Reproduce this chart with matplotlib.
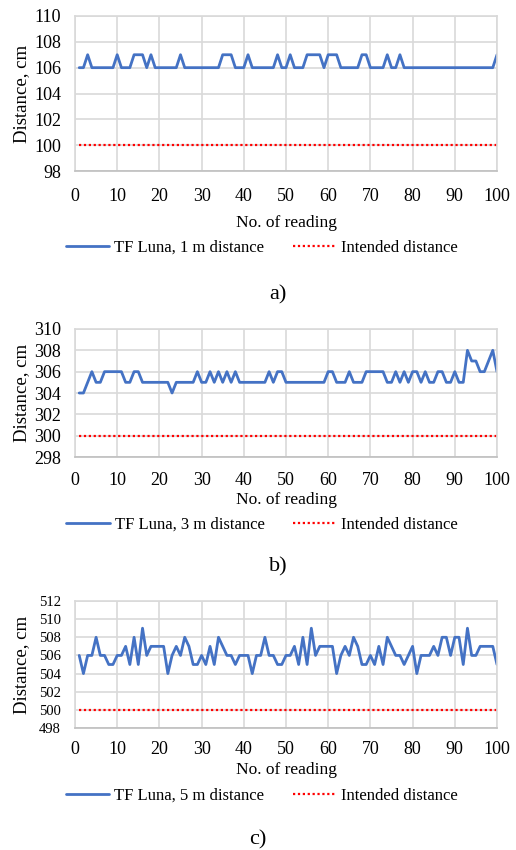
import numpy as np
import matplotlib
matplotlib.use("Agg")
import matplotlib.pyplot as plt

plt.rcParams['font.family'] = ['Liberation Serif', 'DejaVu Serif']

readings = np.arange(1, 101)

# TF Luna, 1 m
dist_1m = [106, 106, 107, 106, 106, 106, 106, 106, 106, 107,
           106, 106, 106, 107, 107, 107, 106, 107, 106, 106,
           106, 106, 106, 106, 107, 106, 106, 106, 106, 106,
           106, 106, 106, 106, 107, 107, 107, 106, 106, 106,
           107, 106, 106, 106, 106, 106, 106, 107, 106, 106,
           107, 106, 106, 106, 107, 107, 107, 107, 106, 107,
           107, 107, 106, 106, 106, 106, 106, 107, 107, 106,
           106, 106, 106, 107, 106, 106, 107, 106, 106, 106,
           106, 106, 106, 106, 106, 106, 106, 106, 106, 106,
           106, 106, 106, 106, 106, 106, 106, 106, 106, 107]

# TF Luna, 3 m
dist_3m = [304, 304, 305, 306, 305, 305, 306, 306, 306, 306,
           306, 305, 305, 306, 306, 305, 305, 305, 305, 305,
           305, 305, 304, 305, 305, 305, 305, 305, 306, 305,
           305, 306, 305, 306, 305, 306, 305, 306, 305, 305,
           305, 305, 305, 305, 305, 306, 305, 306, 306, 305,
           305, 305, 305, 305, 305, 305, 305, 305, 305, 306,
           306, 305, 305, 305, 306, 305, 305, 305, 306, 306,
           306, 306, 306, 305, 305, 306, 305, 306, 305, 306,
           306, 305, 306, 305, 305, 306, 306, 305, 305, 306,
           305, 305, 308, 307, 307, 306, 306, 307, 308, 306]

# TF Luna, 5 m
dist_5m = [506, 504, 506, 506, 508, 506, 506, 505, 505, 506,
           506, 507, 505, 508, 505, 509, 506, 507, 507, 507,
           507, 504, 506, 507, 506, 508, 507, 505, 505, 506,
           505, 507, 505, 508, 507, 506, 506, 505, 506, 506,
           506, 504, 506, 506, 508, 506, 506, 505, 505, 506,
           506, 507, 505, 508, 505, 509, 506, 507, 507, 507,
           507, 504, 506, 507, 506, 508, 507, 505, 505, 506,
           505, 507, 505, 508, 507, 506, 506, 505, 506, 507,
           504, 506, 506, 506, 507, 506, 508, 508, 506, 508,
           508, 505, 509, 506, 506, 507, 507, 507, 507, 505]

intended = [100, 300, 500]
series = [dist_1m, dist_3m, dist_5m]
labels = ['TF Luna, 1 m distance', 'TF Luna, 3 m distance', 'TF Luna, 5 m distance']
ylims = [(98, 110), (298, 310), (498, 512)]
panel_names = ['a)', 'b)', 'c)']

W, H = 516, 850
fig = plt.figure(figsize=(W / 100, H / 100), dpi=100)

# pixel layout: (top, bottom) of plot area, xtick pad, ytick size, xlabel y, legend y, panel label (x, y)
layout = [
    (16, 171, 12, 13, 223, 248, (278, 295)),
    (329, 457, 11, 13, 500, 525, (278, 567)),
    (601, 728, 9.5, 10.5, 770, 796, (258, 840)),
]

left, right = 75, 497

for i in range(3):
    top, bot, xpad, ysize, xl_y, leg_y, (px, py) = layout[i]
    ax = fig.add_axes([left / W, 1 - bot / H, (right - left) / W, (bot - top) / H])
    l1, = ax.plot(readings, series[i], color='#4472C4', lw=2,
                  solid_joinstyle='round', solid_capstyle='round')
    l2, = ax.plot(readings, [intended[i]] * len(readings), color='#FF0000', lw=1.6, ls=(0, (1, 1.2)))
    ax.set_xlim(0, 100)
    ax.set_ylim(*ylims[i])
    ax.set_xticks(np.arange(0, 101, 10))
    ax.set_yticks(np.arange(ylims[i][0], ylims[i][1] + 1, 2))
    ax.grid(True, color='#d9d9d9', lw=1.2)
    ax.set_axisbelow(True)
    for s in ax.spines.values():
        s.set_color('#d9d9d9')
        s.set_linewidth(1.2)
    ax.spines['bottom'].set_color('#bfbfbf')
    ax.tick_params(axis='x', length=0, pad=xpad, labelsize=13)
    ax.tick_params(axis='y', length=0, pad=10, labelsize=ysize)

    fig.text(22 / W, 1 - (top + bot) / 2 / H, 'Distance, cm', rotation=90,
             ha='center', va='center', fontsize=13.5)
    fig.text((left + right) / 2 / W, 1 - xl_y / H, 'No. of reading',
             ha='center', va='center', fontsize=12.5)
    fig.legend([l1, l2], [labels[i], 'Intended distance'], loc='center',
               bbox_to_anchor=(262 / W, 1 - leg_y / H), ncol=2, frameon=False,
               fontsize=12, handlelength=2.6, handletextpad=0.3, columnspacing=1.7)
    fig.text(px / W, 1 - py / H, panel_names[i], ha='center', va='center', fontsize=16)

fig.savefig('out.png', dpi=100)
